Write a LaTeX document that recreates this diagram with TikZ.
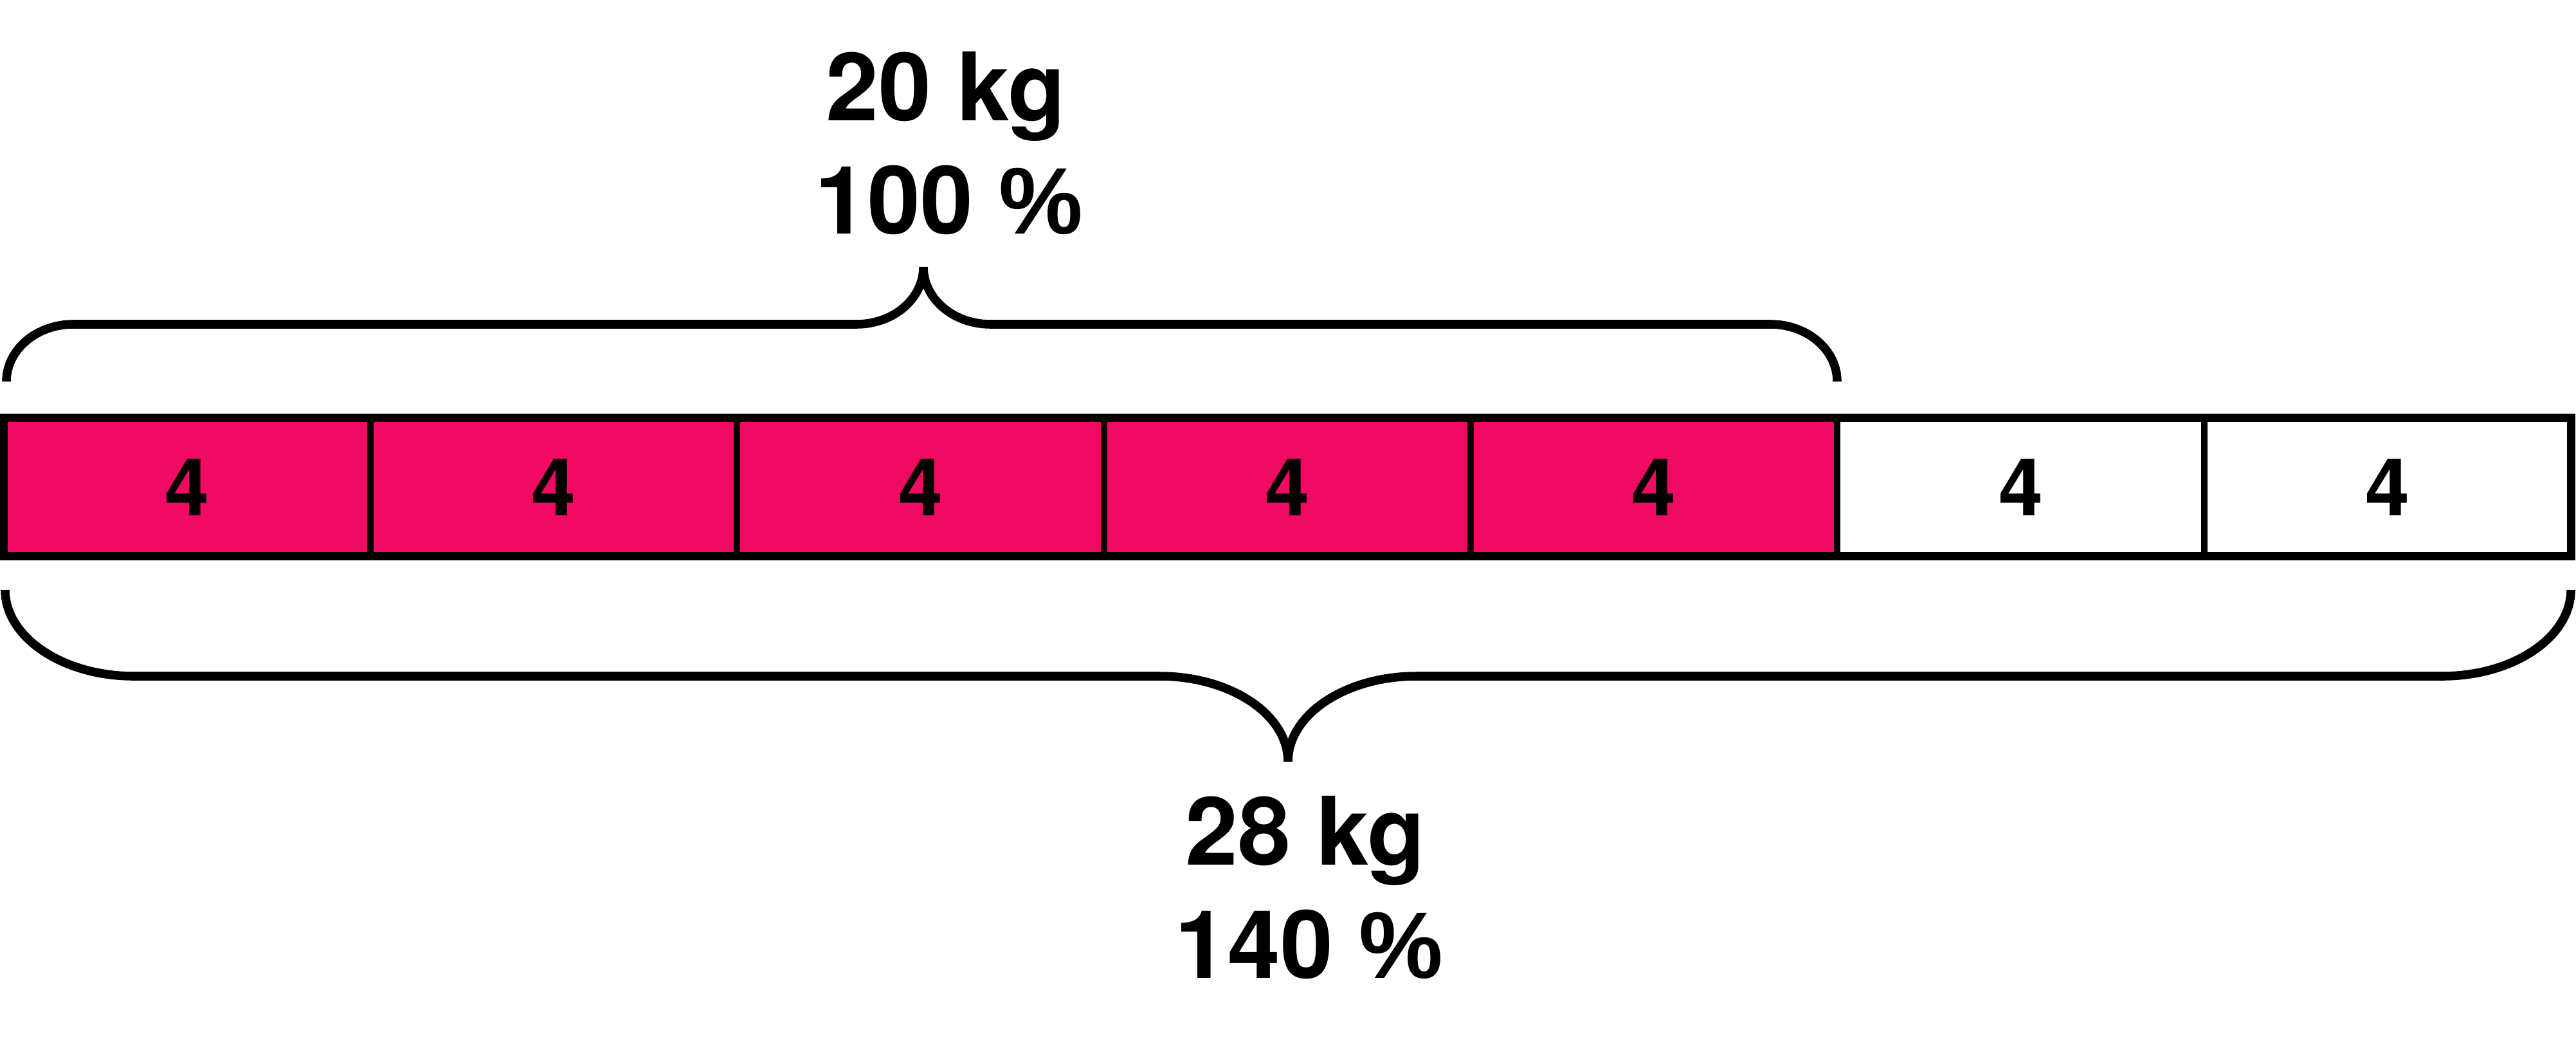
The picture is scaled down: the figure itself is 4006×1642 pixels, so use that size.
\documentclass[tikz,border=0pt]{standalone}
\usepackage{fontspec}
\setmainfont{TeX Gyre Heros}
\newfontfamily\pctfont{Liberation Sans}
\definecolor{barpink}{RGB}{241,10,99}
\begin{document}
\begin{tikzpicture}[x=0.01cm,y=-0.01cm,
  cell/.style={draw=black,line width=2.85pt,minimum width=5.703cm,minimum height=2.15cm,inner sep=0pt,outer sep=0pt,font=\fontsize{35.3}{42}\selectfont\bfseries},
  filled/.style={cell,fill=barpink},
  blank/.style={cell,fill=white},
  brace/.style={line width=3.85pt,line cap=butt},
  lbl/.style={anchor=base,inner sep=0pt,font=\fontsize{41.8}{50}\selectfont\bfseries}]
\useasboundingbox (0,0) rectangle (4006,1642);
% cells
\node[filled] (c1) at (291.15,757) {4};
\node[filled] (c2) at (861.45,757) {4};
\node[filled] (c3) at (1431.75,757) {4};
\node[filled] (c4) at (2002.05,757) {4};
\node[filled] (c5) at (2572.35,757) {4};
\node[blank] (c6) at (3142.65,757) {4};
\node[blank] (c7) at (3712.95,757) {4};
\draw[line width=3.7pt] (c1.north west) rectangle (c7.south east);
% top brace
\draw[brace] (10,593) .. controls (10,543.8) and (56.6,504) .. (114,504)
  -- (1332,504) .. controls (1389.4,504) and (1436,464.2) .. (1436,415)
  .. controls (1436,464.2) and (1482.6,504) .. (1540,504)
  -- (2753,504) .. controls (2810.4,504) and (2857,543.8) .. (2857,593);
% bottom brace
\draw[brace] (8,917) .. controls (8,990.5) and (97.5,1051) .. (208,1051)
  -- (1803,1051) .. controls (1913.5,1051) and (2003,1110.5) .. (2003,1184)
  .. controls (2003,1110.5) and (2092.5,1051) .. (2203,1051)
  -- (3798,1051) .. controls (3908.5,1051) and (3998,990.5) .. (3998,917);
% labels
\node[lbl] (t1) at (1471,187) {20 kg};
\node[lbl] (t2) at (1476,363) {100 {\pctfont\%}};
\node[lbl] (b1) at (2030,1344) {28 kg};
\node[lbl] (b2) at (2036,1520) {140 {\pctfont\%}};
\end{tikzpicture}
\end{document}
